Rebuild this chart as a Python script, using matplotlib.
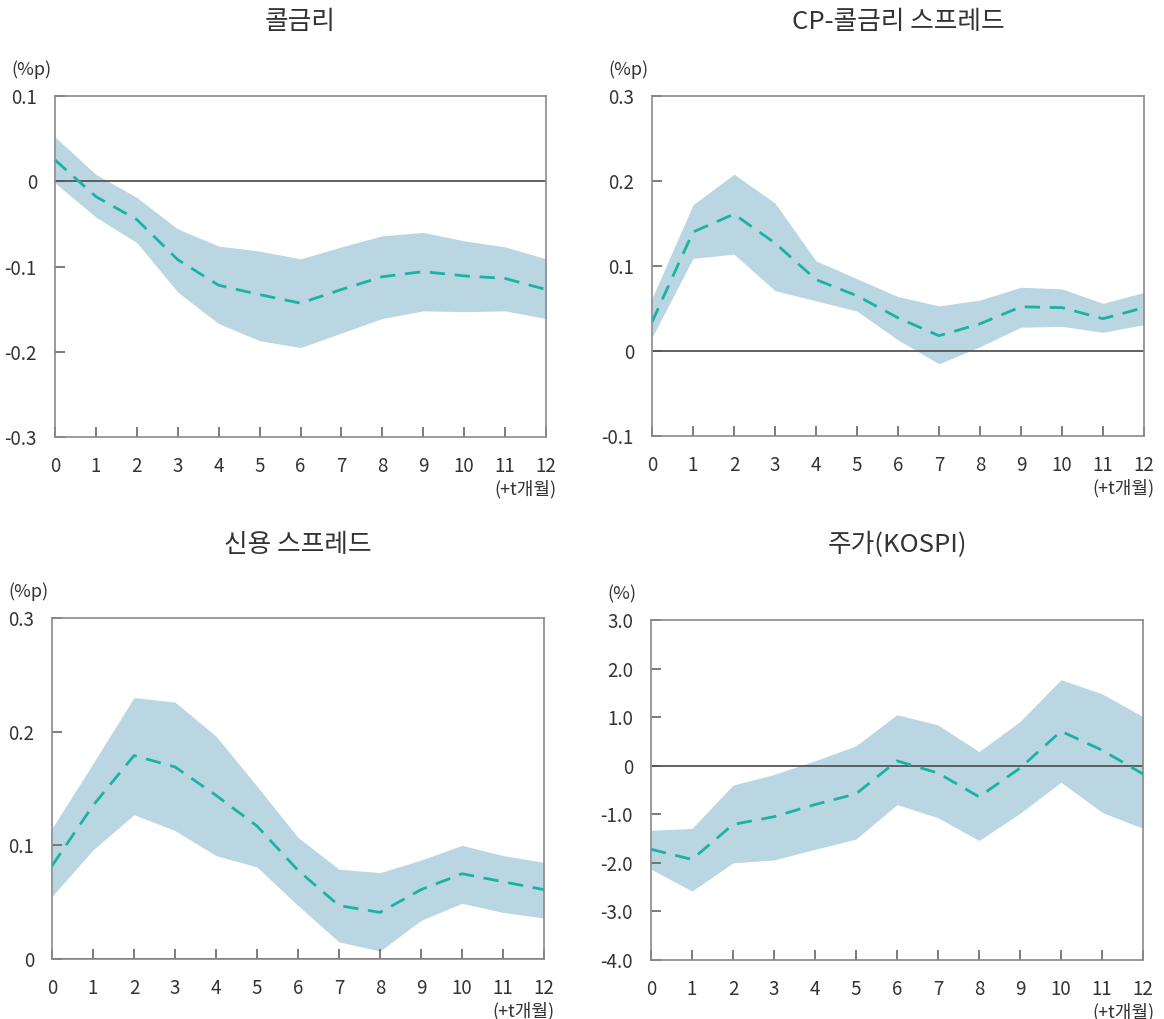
import matplotlib
matplotlib.use("Agg")
import matplotlib.pyplot as plt
import numpy as np

plt.rcParams['font.family'] = ['Noto Sans CJK KR', 'DejaVu Sans']
plt.rcParams['font.weight'] = 'light'

months = list(range(13))
xtick_labels = [str(m) for m in months]

titles = ["콜금리", "CP-콜금리 스프레드", "신용 스프레드", "주가(KOSPI)"]
units = ["(%p)", "(%p)", "(%p)", "(%)"]

call_mid = [0.025, -0.018, -0.045, -0.092, -0.122, -0.133, -0.143, -0.127, -0.112, -0.106, -0.111, -0.114, -0.127]
call_up = [0.052, 0.008, -0.019, -0.056, -0.076, -0.082, -0.091, -0.077, -0.064, -0.060, -0.070, -0.077, -0.091]
call_lo = [-0.002, -0.042, -0.072, -0.130, -0.167, -0.187, -0.195, -0.178, -0.161, -0.152, -0.153, -0.152, -0.161]

cp_mid = [0.034, 0.140, 0.161, 0.127, 0.084, 0.065, 0.039, 0.018, 0.032, 0.052, 0.051, 0.038, 0.051]
cp_up = [0.062, 0.172, 0.208, 0.174, 0.106, 0.085, 0.064, 0.053, 0.060, 0.075, 0.073, 0.056, 0.069]
cp_lo = [0.016, 0.109, 0.114, 0.071, 0.059, 0.047, 0.013, -0.015, 0.005, 0.028, 0.029, 0.022, 0.031]

cr_mid = [0.082, 0.135, 0.179, 0.169, 0.144, 0.117, 0.078, 0.047, 0.041, 0.061, 0.075, 0.068, 0.061]
cr_up = [0.115, 0.172, 0.230, 0.226, 0.196, 0.152, 0.107, 0.079, 0.076, 0.087, 0.100, 0.091, 0.085]
cr_lo = [0.055, 0.096, 0.127, 0.113, 0.091, 0.081, 0.047, 0.015, 0.007, 0.034, 0.049, 0.041, 0.036]

ks_mid = [-1.72, -1.93, -1.21, -1.05, -0.80, -0.58, 0.10, -0.15, -0.64, -0.05, 0.71, 0.32, -0.17]
ks_up = [-1.33, -1.29, -0.40, -0.18, 0.10, 0.41, 1.05, 0.84, 0.29, 0.91, 1.77, 1.48, 1.01]
ks_lo = [-2.13, -2.58, -2.00, -1.94, -1.72, -1.51, -0.80, -1.07, -1.54, -0.98, -0.34, -0.96, -1.29]

yticks = [
    [0.1, 0, -0.1, -0.2, -0.3],
    [0.3, 0.2, 0.1, 0, -0.1],
    [0.3, 0.2, 0.1, 0],
    [3.0, 2.0, 1.0, 0, -1.0, -2.0, -3.0, -4.0],
]
ytick_labels = [
    ["0.1", "0", "-0.1", "-0.2", "-0.3"],
    ["0.3", "0.2", "0.1", "0", "-0.1"],
    ["0.3", "0.2", "0.1", "0"],
    ["3.0", "2.0", "1.0", "0", "-1.0", "-2.0", "-3.0", "-4.0"],
]
ylims = [(-0.3, 0.1), (-0.1, 0.3), (0, 0.3), (-4.0, 3.0)]
series = [(call_mid, call_up, call_lo), (cp_mid, cp_up, cp_lo),
          (cr_mid, cr_up, cr_lo), (ks_mid, ks_up, ks_lo)]

W, H = 1164, 1019
fig = plt.figure(figsize=(W / 100, H / 100), dpi=100)

# axes boxes in pixels: left, top, right, bottom
boxes = [(55, 96, 546, 437), (652, 96, 1144, 436), (52, 618, 544, 959), (651, 620, 1143, 960)]
title_y = [22, 22, 545, 545]
band_color = "#b9d6e2"
line_color = "#1ab3a3"
text_color = "#333333"
spine_color = "#8a8a8a"

for i, (l, t, r, b) in enumerate(boxes):
    ax = fig.add_axes([l / W, 1 - b / H, (r - l) / W, (b - t) / H])
    mid, up, lo = series[i]
    ax.fill_between(months, lo, up, color=band_color, linewidth=0, zorder=1)
    ax.axhline(0, color="#555555", linewidth=1.3, zorder=2)
    ax.plot(months, mid, color=line_color, linewidth=2.0, dashes=(5.5, 3.5), zorder=3)
    ax.set_xlim(0, 12)
    ax.set_ylim(*ylims[i])
    ax.set_xticks(months)
    ax.set_xticklabels(xtick_labels)
    ax.set_yticks(yticks[i])
    ax.set_yticklabels(ytick_labels[i])
    ax.tick_params(axis='both', direction='in', length=7, width=1.2, color="#666666",
                   labelsize=13.5, labelcolor=text_color)
    ax.tick_params(axis='x', pad=14)
    ax.tick_params(axis='y', pad=13)
    for s in ax.spines.values():
        s.set_color(spine_color)
        s.set_linewidth(1.2)
    cx = (l + r) / 2
    fig.text(cx / W, 1 - title_y[i] / H, titles[i], ha='center', va='center',
             fontsize=18.5, color=text_color)
    fig.text((l - 44) / W, 1 - (t - 26) / H, units[i], ha='left', va='center',
             fontsize=13, color=text_color)
    fig.text((r + 11) / W, 1 - (b + 52) / H, "(+t개월)", ha='right', va='center',
             fontsize=13, color=text_color)

fig.savefig("out.png", dpi=100, facecolor="white")
